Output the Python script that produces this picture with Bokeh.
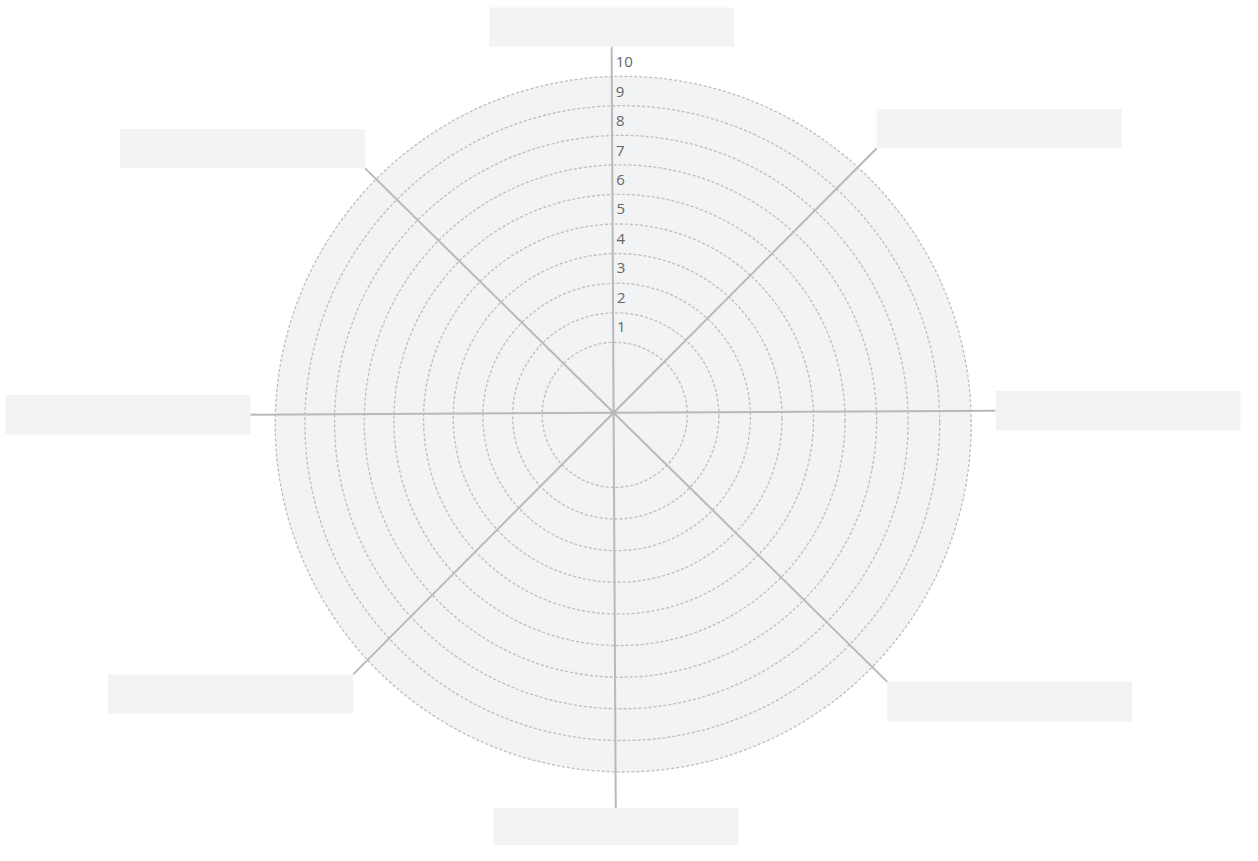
import math
from bokeh.plotting import figure
from bokeh.models import Range1d
from bokeh.core.properties import value
from bokeh.embed import file_html
from bokeh.resources import INLINE

# ---- data ----
levels = [1, 2, 3, 4, 5, 6, 7, 8, 9, 10]
level_labels = ["1", "2", "3", "4", "5", "6", "7", "8", "9", "10"]
categories = ["", "", "", "", "", "", "", ""]          # blank label boxes
spoke_angles = [90, 45, 0, -45, -90, -135, 180, 135]   # degrees
spoke_reach = [373, 379, 387, 390, 403, 375, 368, 354]  # px from centre to box
box_anchor = ["bottom_center", "bottom_left", "center_left", "top_left",
              "top_center", "top_right", "center_right", "bottom_right"]

# ---- geometry / style ----
W, H = 1242, 845            # figure size that fits the window
RW, RH = 1258, 861          # reference canvas mapped into the figure
CX, CY = 621, 420           # centre in reference px
TILT = 0.31                 # degrees, slight counter-clockwise rotation
R0, DR = 73.5, 31.0         # ring radius for level 1, step per level
DRIFT_X, DRIFT_Y = 0.95, 1.05  # ring centre drift per level
OFF_X, OFF_Y = 1.2, 2.2
BOX_W, BOX_H = 248, 40
FILL = "#f1f3f4"
RING = "#bcbec0"
SPOKE = "#b9b9b9"

p = figure(width=W, height=H, output_backend="svg", toolbar_location=None,
           x_range=Range1d(-CX, RW - CX), y_range=Range1d(CY - RH, CY),
           min_border=0, x_axis_location=None, y_axis_location=None)
p.grid.visible = False
p.outline_line_color = None
p.background_fill_color = "white"
p.border_fill_color = "white"

def ring_geom(k):
    r = R0 + (k - 1) * DR
    cx = OFF_X + (k - 1) * DRIFT_X
    cy = -(OFF_Y + (k - 1) * DRIFT_Y)
    return cx, cy, r

rx, ry, rr = zip(*[ring_geom(k) for k in levels])

# outer disc fill
p.circle(x=[rx[-1]], y=[ry[-1]], radius=[rr[-1]], fill_color=FILL,
         line_color=None)
# dashed rings
p.circle(x=list(rx), y=list(ry), radius=list(rr), fill_color=None,
         line_color=RING, line_width=1.3, line_dash="3 2")

# spokes
ex, ey = [], []
for a, L in zip(spoke_angles, spoke_reach):
    t = math.radians(a + TILT)
    ex.append(L * math.cos(t))
    ey.append(L * math.sin(t))
p.segment(x0=[0] * len(ex), y0=[0] * len(ey), x1=ex, y1=ey,
          line_color=SPOKE, line_width=2)

# boxes at spoke ends
lefts, rights, tops, bottoms = [], [], [], []
for x, y, anc in zip(ex, ey, box_anchor):
    vert, horiz = anc.split("_")
    if horiz == "left":
        l = x
    elif horiz == "right":
        l = x - BOX_W
    else:
        l = x - BOX_W / 2
    if vert == "bottom":
        b = y
    elif vert == "top":
        b = y - BOX_H
    else:
        b = y - BOX_H / 2
    lefts.append(l); rights.append(l + BOX_W)
    bottoms.append(b); tops.append(b + BOX_H)
p.quad(left=lefts, right=rights, top=tops, bottom=bottoms,
       fill_color=FILL, line_color=None)
cx_box = [(l + r) / 2 for l, r in zip(lefts, rights)]
cy_box = [(t + b) / 2 for t, b in zip(tops, bottoms)]
p.text(x=cx_box, y=cy_box, text=categories, text_align="center",
       text_baseline="middle", text_font=value("Open Sans"),
       text_font_size="14px", text_color="#555555")

# level labels along the vertical spoke
lx = [4 - (ring_geom(k)[1] + ring_geom(k)[2] + 17) * math.tan(math.radians(TILT)) for k in levels]
ly = [ring_geom(k)[1] + ring_geom(k)[2] + 16 for k in levels]
p.text(x=lx, y=ly, text=level_labels, text_align="left",
       text_baseline="middle", text_font=value("Open Sans"),
       text_font_size="15px", text_color="#666666")

open("out.html", "w").write(file_html(p, INLINE))
